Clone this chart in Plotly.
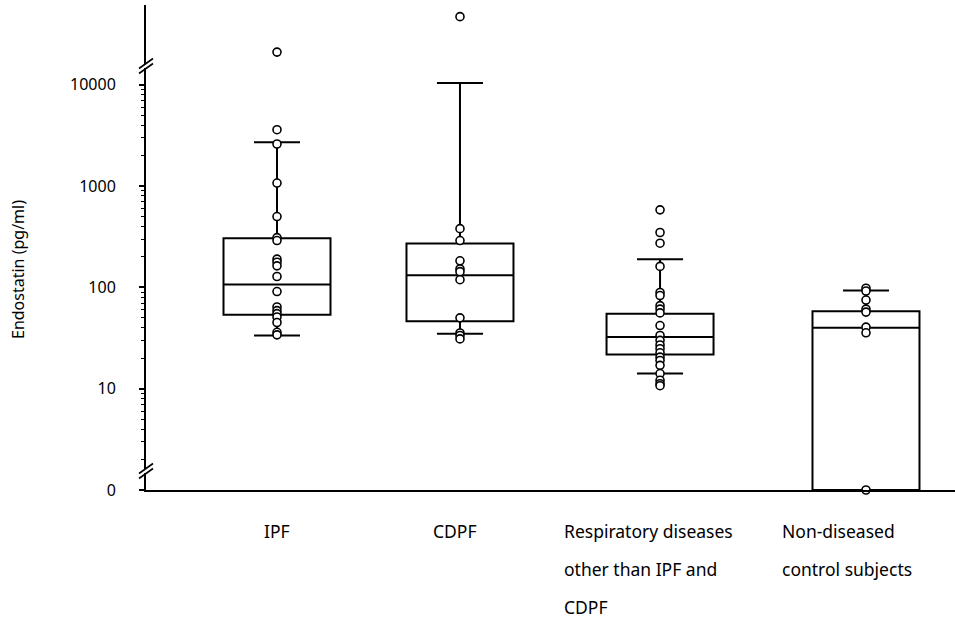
import plotly.graph_objects as go

# ---------------- data ----------------
groups = ["IPF", "CDPF", "Respiratory diseases other than IPF and CDPF", "Non-diseased control subjects"]
label_lines = [["IPF"], ["CDPF"],
               ["Respiratory diseases", "other than IPF and", "CDPF"],
               ["Non-diseased", "control subjects"]]

ipf_points = [21000, 3600, 2600, 1070, 500, 310, 290, 190, 177, 163, 128, 91, 64, 59, 55, 51, 45, 36, 34]
cdpf_points = [47000, 380, 290, 183, 152, 143, 119, 50, 35.5, 33.5, 31]
resp_points = [582, 348, 273, 161, 89, 83, 66, 61, 56, 42, 33.5, 30, 27, 24.8, 22.6, 20.5, 19, 17,
               14.1, 12.1, 11.2, 10.7]
ctrl_points = [98, 92, 75, 61, 57, 40.5, 35.6, 0]

q1 = [53.6, 46.4, 21.8, 0]
median = [107, 132, 32.3, 40]
q3 = [305, 271, 55, 58]
lower_whisker = [33.5, 34.8, 14.1, 0]
upper_whisker = [2700, 10400, 189, 93]

tick_values = [0, 10, 100, 1000, 10000]
tick_labels = ["0", "10", "100", "1000", "10000"]

# ---------------- layout constants ----------------
ZERO_AT = 1.0                      # axis position used for the broken-axis "0"
group_pos = [0.0, 0.932, 1.951, 3.0]
W, H = 955, 620
ML, MR, MT, MB = 146, 0, 5, 130
PW, PH = W - ML - MR, H - MT - MB
FONT = "Noto Sans"


def on_axis(v):
    return v if v > 0 else ZERO_AT


all_points = [ipf_points, cdpf_points, resp_points, ctrl_points]

fig = go.Figure()
fig.add_trace(go.Box(
    x=group_pos,
    q1=[on_axis(v) for v in q1],
    median=[on_axis(v) for v in median],
    q3=[on_axis(v) for v in q3],
    lowerfence=[on_axis(v) for v in lower_whisker],
    upperfence=[on_axis(v) for v in upper_whisker],
    width=0.545,
    whiskerwidth=0.43,
    boxpoints=False,
    fillcolor="white",
    line=dict(color="black", width=2),
    showlegend=False,
    hoverinfo="skip",
))

for pos, pts in zip(group_pos, all_points):
    fig.add_trace(go.Scatter(
        x=[pos] * len(pts),
        y=[on_axis(v) for v in pts],
        mode="markers",
        marker=dict(symbol="circle", size=8, color="white",
                    line=dict(color="black", width=1.6)),
        cliponaxis=False,
        showlegend=False,
    ))

minor_vals = [m * 10 ** k for k in range(0, 4) for m in range(2, 10)]


# pixel helpers -> paper coords
def px(x):
    return (x - ML) / PW


def py(y):
    return (H - MB - y) / PH


shapes = []
for by in (471, 66):
    shapes.append(dict(type="rect", xref="paper", yref="paper",
                       x0=px(ML - 3), x1=px(ML + 3), y0=py(by + 2), y1=py(by - 2),
                       fillcolor="white", line=dict(width=0), layer="above"))
    for off in (-2.5, 2.5):
        shapes.append(dict(type="line", xref="paper", yref="paper",
                           x0=px(ML - 7), y0=py(by + off + 5),
                           x1=px(ML + 7), y1=py(by + off - 5),
                           line=dict(color="black", width=1.6), layer="above"))

annotations = []
label_left = [262, 431, 562, 780]
for left, lines in zip(label_left, label_lines):
    for i, line in enumerate(lines):
        annotations.append(dict(
            text=line, xref="paper", yref="paper",
            x=px(left), y=py(531 + 38 * i),
            xanchor="left", yanchor="middle", showarrow=False,
            font=dict(family=FONT, size=17.5, color="black"),
        ))
annotations.append(dict(
    text="Endostatin (pg/ml)", xref="paper", yref="paper",
    x=px(18), y=py(270), textangle=-90, xanchor="center", yanchor="middle",
    showarrow=False, font=dict(family=FONT, size=16, color="black"),
))

fig.update_layout(
    width=W, height=H,
    margin=dict(l=ML, r=MR, t=MT, b=MB),
    paper_bgcolor="white", plot_bgcolor="white",
    font=dict(family=FONT, size=16, color="black"),
    shapes=shapes,
    annotations=annotations,
    xaxis=dict(
        range=[(ML - 277) / 196.33, (W - 277) / 196.33],
        showgrid=False, zeroline=False, showticklabels=False, ticks="",
        showline=True, linecolor="black", linewidth=2,
    ),
    yaxis=dict(
        type="log",
        range=[0, 4.787],
        tickmode="array",
        tickvals=[on_axis(v) for v in tick_values],
        ticktext=tick_labels,
        ticks="outside", ticklen=5, tickwidth=1.5, tickcolor="black",
        ticklabelstandoff=20,
        minor=dict(tickmode="array", tickvals=minor_vals, ticks="outside",
                   ticklen=3, tickwidth=1, tickcolor="black", showgrid=False),
        showgrid=False, zeroline=False,
        showline=True, linecolor="black", linewidth=2,
        tickfont=dict(family=FONT, size=16, color="black"),
    ),
)

fig.write_html("out.html", config={"displayModeBar": False},
               post_script="document.body.style.margin='0';")
